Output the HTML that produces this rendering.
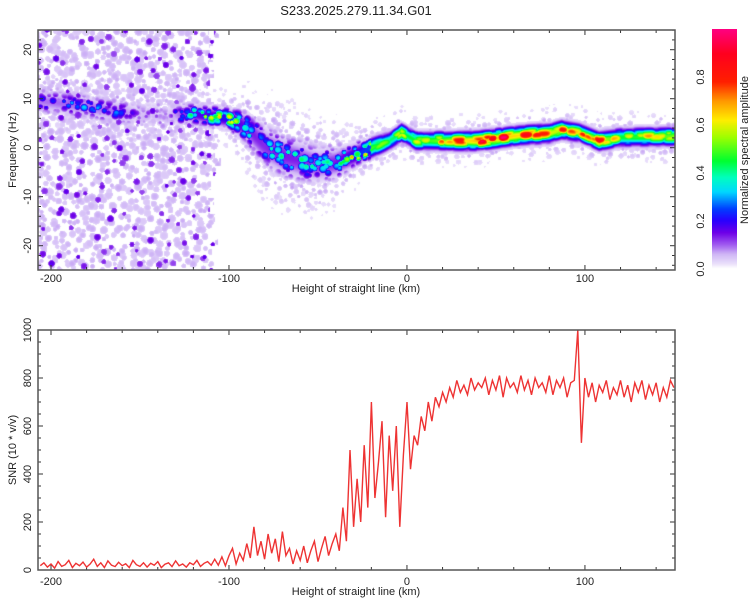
<!DOCTYPE html>
<html><head><meta charset="utf-8">
<style>
html,body{margin:0;padding:0;background:#fff;}
#wrap{position:relative;width:750px;height:600px;overflow:hidden;font-family:"Liberation Sans",sans-serif;}
#heat{position:absolute;left:38px;top:30px;}
#cbar{position:absolute;left:712px;top:29px;}
svg{position:absolute;left:0;top:0;}
</style></head>
<body>
<div id="wrap">
<canvas id="heat" width="637" height="240"></canvas>
<canvas id="cbar" width="25" height="240"></canvas>
<svg id="svg" width="750" height="600"></svg>
</div>
<script>
// ---- data ----
const ridgeHeights = [-207,-190,-160,-150,-135,-120,-100,-90,-80,-70,-60,-50,-40,-30,-20,-10,-3,5,20,40,63,80,87,97,108,120,151];
const ridgeFreqs   = [9.7,9,7.3,7,6.8,7,6,4.2,0.5,-1.5,-2.5,-3.5,-3,-1.5,0,1.5,3.2,1.5,1.5,1.5,2.6,3,3.8,3.2,1.5,2.2,2.4];
const ridgeAmps    = [0.22,0.24,0.22,0.1,0.08,0.4,0.55,0.35,0.32,0.35,0.33,0.3,0.35,0.55,0.65,0.55,0.6,0.6,0.7,0.9,0.85,0.8,0.75,0.7,0.8,0.6,0.7];
const ridgeWidths  = [1.3,1.3,1.3,1.3,1.3,1.1,1.1,1.8,2.2,2.2,2.2,2,1.7,1.3,1.1,1,1,1,1,1,1,1,1,1,1,1,1];
const snrStart = -206, snrStep = 2;
const snrValues = [18,30,12,25,8,35,15,22,40,10,28,18,33,12,25,45,15,30,10,38,20,14,32,18,26,10,40,22,15,30,12,28,20,35,10,24,30,14,38,18,25,12,30,22,40,15,28,35,20,45,
20,55,18,60,90,25,70,40,110,50,180,60,120,45,150,70,130,35,160,60,90,25,80,
40,100,30,80,120,35,90,140,60,110,
150,80,260,120,500,180,
380,200,520,260,700,300,450,620,220,560,330,600,
180,480,700,
420,560,520,640,580,700,620,720,680,740,
700,760,720,790,740,770,730,800,750,780,
760,800,730,790,750,810,720,800,760,780,740,810,750,790,730,800,760,780,740,810,730,790,760,800,720,780,790,
1000,530,800,
720,780,700,770,740,790,710,760,730,790,720,770,700,780,740,790,710,770,730,780,700,760,720,790,760];
const xTicks = [-200,-100,0,100];
const freqTicks = [-20,-10,0,10,20];
const snrTicks = [0,200,400,600,800,1000];
const cbTicks = [0.0,0.2,0.4,0.6,0.8];

// ---- scales ----
const X0=38, X1=675, H0=-207.3, H1=150.6;
const xs = h => X0 + (h-H0)/(H1-H0)*(X1-X0);
const T0=30, T1=270;
const fy = f => 147.7 - f*4.9;
const B0=330, B1=570;
const sy = v => B1 - v/1000*(B1-B0);

const stops=[[0,[255,255,255]],[0.02,[234,224,251]],[0.06,[208,182,246]],[0.1,[160,90,240]],[0.15,[110,0,232]],[0.2,[42,0,255]],[0.25,[0,64,255]],[0.32,[0,216,255]],[0.38,[0,255,192]],[0.45,[0,255,48]],[0.55,[160,255,0]],[0.62,[255,238,0]],[0.7,[255,153,0]],[0.78,[255,32,0]],[0.9,[255,0,32]],[1,[255,0,128]]];
function cmap(v){v=Math.max(0,Math.min(1,v));for(let i=1;i<stops.length;i++){if(v<=stops[i][0]){const a=stops[i-1],b=stops[i];const t=(v-a[0])/(b[0]-a[0]);return [0,1,2].map(k=>a[1][k]+(b[1][k]-a[1][k])*t);}}return stops[stops.length-1][1];}
function interp(arrX,arrY,x){if(x<=arrX[0])return arrY[0];for(let i=1;i<arrX.length;i++){if(x<=arrX[i]){const t=(x-arrX[i-1])/(arrX[i]-arrX[i-1]);return arrY[i-1]+(arrY[i]-arrY[i-1])*t;}}return arrY[arrY.length-1];}
// speckle texture helpers (round blobs)
function hsh(i,j,s){let h=(Math.imul(i,374761393)+Math.imul(j,668265263)+Math.imul(s,982451653))|0;h=Math.imul(h^(h>>>13),1274126177);h=h^(h>>>16);return (h>>>0)/4294967296;}
function blobs(px,py,cell,seed,keep,rs){
  const ci=Math.floor(px/cell),cj=Math.floor(py/cell);let best=0;
  for(let di=-1;di<=1;di++)for(let dj=-1;dj<=1;dj++){
    const i=ci+di,j=cj+dj;
    if(hsh(i,j,seed)>keep)continue;
    const cx=(i+hsh(i,j,seed+1))*cell,cy=(j+hsh(i,j,seed+2))*cell;
    const r=cell*rs*(0.6+0.6*hsh(i,j,seed+3));
    const d2=((px-cx)*(px-cx)+(py-cy)*(py-cy))/(r*r);
    if(d2<1){const a=(0.4+0.6*hsh(i,j,seed+4))*(1-d2*d2);if(a>best)best=a;}
  }
  return best;
}

// ---- heatmap ----
(function(){
const cv=document.getElementById('heat');const ctx=cv.getContext('2d');
const img=ctx.createImageData(637,240);
for(let px=0;px<637;px++){
  const h=H0+(px+0.5)/637*(H1-H0);
  const rf=interp(ridgeHeights,ridgeFreqs,h), ra=interp(ridgeHeights,ridgeAmps,h), rw=interp(ridgeHeights,ridgeWidths,h);
  const lumpy=(h<-20);
  for(let py=0;py<240;py++){
    const f=(147.7-(py+30))/4.9;
    const df=f-rf;
    let mod;
    if(lumpy){mod=0.4+1.0*blobs(px,py,6,10,0.8,0.6);}
    else{mod=0.75+0.4*blobs(px,py,9,20,0.7,0.7);}
    let v=ra*mod*Math.exp(-(df*df)/(2*rw*rw));
    const halo=Math.exp(-(df*df)/(2*(rw*3.2)*(rw*3.2)));
    const b1=blobs(px,py,5,30,0.6,0.6);
    v=Math.max(v,halo*b1*0.1);
    if(h<-112 || (h<-104 && hsh(px>>3,py>>3,99)<(-104-h)/8)){
      const bl=blobs(px,py,6,40,0.75,0.6);
      if(bl>0.05) v=Math.max(v,0.025+bl*0.04);
      const bd=blobs(px,py,11,50,0.45,0.3);
      if(bd>0.2) v=Math.max(v,0.07+bd*0.1);
    }
    const idx=(py*637+px)*4;
    let c=[255,255,255];
    if(v>0.018) c=cmap(v);
    img.data[idx]=c[0];img.data[idx+1]=c[1];img.data[idx+2]=c[2];img.data[idx+3]=255;
  }
}
ctx.putImageData(img,0,0);
const cb=document.getElementById('cbar').getContext('2d');
for(let y=0;y<240;y++){const c=cmap(1-y/239);cb.fillStyle=`rgb(${c[0]|0},${c[1]|0},${c[2]|0})`;cb.fillRect(0,y,25,1);}
})();

// ---- svg axes ----
const NS='http://www.w3.org/2000/svg';
const svg=document.getElementById('svg');
function el(tag,attrs,parent){const e=document.createElementNS(NS,tag);for(const k in attrs)e.setAttribute(k,attrs[k]);(parent||svg).appendChild(e);return e;}
function txt(s,x,y,rot,size,name){const t=el('text',{x:x,y:y,'font-size':size||11,'text-anchor':'middle',fill:'#222','font-family':'"Liberation Sans",sans-serif'});
if(rot)t.setAttribute('transform',`rotate(-90 ${x} ${y})`);t.textContent=s;


return t;}

txt('S233.2025.279.11.34.G01',356,15,false,13,'chart-title');

function frame(top,bot,name){const r=el('rect',{x:X0,y:top,width:X1-X0,height:bot-top,fill:'none',stroke:'#555','stroke-width':1.5});

}

function xAxis(top,bot,labelY,name){
  for(let h=-200;h<=140;h+=20){const x=xs(h);const big=(h%100===0);const L=big?5:3;
    el('line',{x1:x,y1:bot,x2:x,y2:bot-L,stroke:'#333','stroke-width':1});
    el('line',{x1:x,y1:top,x2:x,y2:top+L,stroke:'#333','stroke-width':1});}
  xTicks.forEach(h=>{txt(String(h),xs(h),labelY,false,11,name+'-tick-label');});
  txt('Height of straight line (km)',356,labelY+10,false,11,name+'-title');
}
xAxis(T0,T1,282,'top-x-axis');
for(let f=-24;f<=24;f+=2){const y=fy(f);const big=(f%10===0);const L=big?5:3;
  el('line',{x1:X0,y1:y,x2:X0+L,y2:y,stroke:'#333'});el('line',{x1:X1,y1:y,x2:X1-L,y2:y,stroke:'#333'});}
freqTicks.forEach(f=>txt(String(f),31,fy(f),true,11,'freq-tick-label'));
txt('Frequency (Hz)',16,150,true,11,'freq-axis-title');
frame(T0,T1,'top-plot-frame');
xAxis(B0,B1,585,'bottom-x-axis');
for(let v=0;v<=1000;v+=50){const y=sy(v);const big=(v%200===0);const L=big?5:3;
  el('line',{x1:X0,y1:y,x2:X0+L,y2:y,stroke:'#333'});el('line',{x1:X1,y1:y,x2:X1-L,y2:y,stroke:'#333'});}
snrTicks.forEach(v=>txt(String(v),31,sy(v),true,11,'snr-tick-label'));
txt('SNR (10 * v/v)',16,450,true,11,'snr-axis-title');
let d='';snrValues.forEach((v,i)=>{const h=snrStart+i*snrStep;d+=(i?'L':'M')+xs(h).toFixed(1)+' '+sy(v).toFixed(1);});
const cp=el('clipPath',{id:'bclip'});el('rect',{x:X0,y:B0,width:X1-X0,height:B1-B0},cp);
const line=el('path',{d:d,fill:'none',stroke:'#ee3333','stroke-width':1.4,'clip-path':'url(#bclip)'});


frame(B0,B1,'bottom-plot-frame');
cbTicks.forEach(v=>txt(v.toFixed(1),704,269-v*240,true,11,'colorbar-tick-label'));
txt('Normalized spectral amplitude',748,150,true,11,'colorbar-title');
</script>
</body></html>
